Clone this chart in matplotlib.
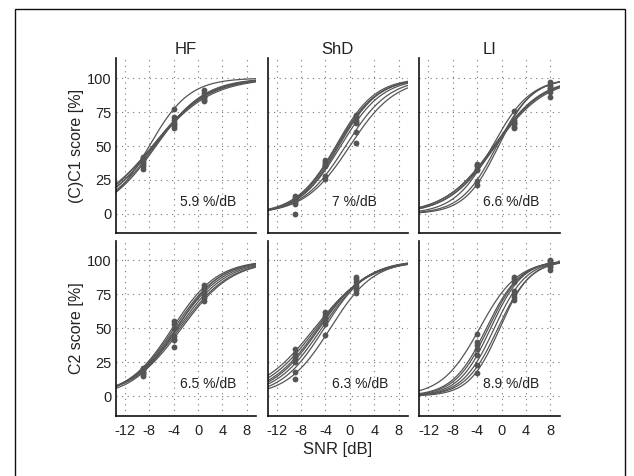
import numpy as np
import matplotlib
matplotlib.use("Agg")
import matplotlib.pyplot as plt
from matplotlib.patches import Rectangle

plt.rcParams['font.family'] = ['Liberation Sans', 'DejaVu Sans']
plt.rcParams['axes.unicode_minus'] = False

# conditions (columns)
titles = ["HF", "ShD", "LI"]
snr_hf = [-9, -4, 1]
snr_shd = [-9, -4, 1]
snr_li = [-4, 2, 8]

# row 1: (C)C1 scores -- fitted curves (midpoint dB, slope %/dB) and measured points
c1_hf_mid = [-8.0, -7.3, -7.5, -7.0, -7.2, -6.9, -7.4]
c1_hf_slope = [7.6, 5.8, 5.5, 6.0, 5.6, 6.3, 5.2]
c1_hf_pts = [[42, 41, 40, 38, 37, 35, 33],
             [77.5, 71, 69, 67, 66, 65, 63],
             [91.5, 89, 87, 86, 85, 84, 83]]
c1_shd_mid = [-2.3, -2.0, -2.2, -1.8, -1.5, -0.7, 0.0]
c1_shd_slope = [7.8, 7.6, 7.4, 7.7, 7.3, 7.0, 6.7]
c1_shd_pts = [[13, 12, 11, 10, 9, 7, 0],
              [40, 38, 37, 36, 35, 28, 26],
              [73, 71, 69, 68, 67, 60, 52]]
c1_li_mid = [-1.5, -1.2, -1.3, -1.0, -1.1, -0.8, -0.5]
c1_li_slope = [8.0, 6.5, 6.2, 6.4, 6.0, 8.5, 9.0]
c1_li_pts = [[37, 36, 35, 33, 32, 24, 21],
             [76, 69, 68, 67, 66, 64, 63],
             [97, 95, 94, 93, 92, 90, 86]]

# row 2: C2 scores
c2_hf_mid = [-4.2, -3.9, -3.6, -3.3, -3.0, -2.7, -3.5]
c2_hf_slope = [6.8, 6.6, 6.4, 6.2, 6.0, 6.0, 7.0]
c2_hf_pts = [[21, 20, 19, 18, 17, 16, 15],
             [55, 53, 50, 44, 42, 41, 36],
             [82, 80, 78, 76, 74, 72, 70]]
c2_shd_mid = [-5.8, -5.5, -5.2, -5.0, -4.6, -4.2, -3.2]
c2_shd_slope = [5.6, 5.9, 6.2, 6.4, 6.6, 7.0, 7.0]
c2_shd_pts = [[35, 31, 29, 27, 25, 18, 13],
              [62, 60, 58, 57, 55, 53, 45],
              [88, 86, 84, 82, 80, 78, 76]]
c2_li_mid = [-3.6, -2.5, -2.2, -1.8, -1.2, -0.6, -0.3]
c2_li_slope = [8.0, 9.0, 9.2, 9.5, 9.5, 9.4, 10.0]
c2_li_pts = [[46, 40, 38, 35, 30, 23, 17],
             [88, 86, 84, 77, 75, 73, 71],
             [100, 99, 98, 97, 96, 95, 93]]

c1_text = ["5.9 %/dB", "7 %/dB", "6.6 %/dB"]
c2_text = ["6.5 %/dB", "6.3 %/dB", "8.9 %/dB"]
row_labels = ["(C)C1 score [%]", "C2 score [%]"]

xticks = [-12, -8, -4, 0, 4, 8]
yticks = [0, 25, 50, 75, 100]

rows = [
    [(snr_hf, c1_hf_mid, c1_hf_slope, c1_hf_pts),
     (snr_shd, c1_shd_mid, c1_shd_slope, c1_shd_pts),
     (snr_li, c1_li_mid, c1_li_slope, c1_li_pts)],
    [(snr_hf, c2_hf_mid, c2_hf_slope, c2_hf_pts),
     (snr_shd, c2_shd_mid, c2_shd_slope, c2_shd_pts),
     (snr_li, c2_li_mid, c2_li_slope, c2_li_pts)],
]
texts = [c1_text, c2_text]

W, H = 634, 476
fig = plt.figure(figsize=(W / 100, H / 100), dpi=100)
fig.patches.append(Rectangle((15 / W, -0.05), 610 / W, 1.05 - 9 / H,
                             transform=fig.transFigure, fill=False,
                             edgecolor='#111111', linewidth=1.0))

col_left = [115.7, 267.5, 419.3]
col_w = 140.3
row_top = [58.3, 240.5]
row_h = 175.0
col = '#555555'
xs = np.linspace(-13.5, 9.5, 200)

for r in range(2):
    for c in range(3):
        ax = fig.add_axes([col_left[c] / W, 1 - (row_top[r] + row_h) / H,
                           col_w / W, row_h / H])
        snr, mids, slopes, pts = rows[r][c]
        for m, s in zip(mids, slopes):
            k = 4 * s / 100
            ax.plot(xs, 100 / (1 + np.exp(-k * (xs - m))), color=col, lw=0.9)
        for x, vals in zip(snr, pts):
            ax.plot([x] * len(vals), vals, 'o', color=col, ms=4.2, mec='none')
        ax.text(-3, 9, texts[r][c], ha='left', va='center', fontsize=10,
                color='#222222')
        ax.set_xlim(-13.5, 9.5)
        ax.set_ylim(-14.2, 114.5)
        ax.set_xticks(xticks)
        ax.set_yticks(yticks)
        ax.grid(True, color='#777777', linestyle=(0, (1, 4)), linewidth=0.8)
        for sp in ['top', 'right']:
            ax.spines[sp].set_visible(False)
        for sp in ['left', 'bottom']:
            ax.spines[sp].set_linewidth(1.2)
            ax.spines[sp].set_color('#111111')
        ax.tick_params(length=0, labelsize=10.5, colors='#222222')
        ax.tick_params(axis='x', pad=6)
        ax.tick_params(axis='y', pad=3)
        if r == 0:
            ax.set_title(titles[c], fontsize=12, pad=3, color='#222222')
            ax.tick_params(labelbottom=False)
        if c > 0:
            ax.tick_params(labelleft=False)
        if r == 1 and c == 1:
            ax.set_xlabel("SNR [dB]", fontsize=12, color='#222222', labelpad=3)
        if c == 0:
            fig.text(77 / W, 1 - (row_top[r] + row_h / 2) / H, row_labels[r],
                     rotation=90, ha='center', va='center', fontsize=11.5,
                     color='#222222')

fig.savefig("out.png", dpi=100)
